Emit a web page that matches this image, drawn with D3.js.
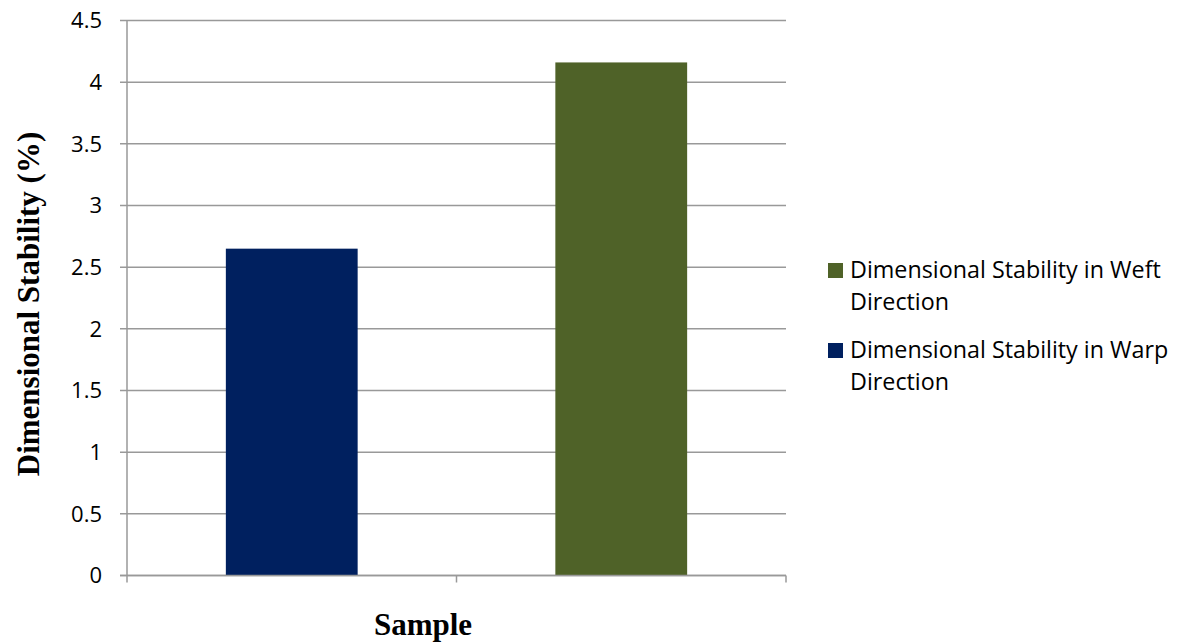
<!DOCTYPE html>
<html>
<head>
<meta charset="utf-8">
<script src="https://cdn.jsdelivr.net/npm/d3@7"></script>
<style>
  html, body { margin: 0; padding: 0; background: #fff; }
  svg { display: block; }
</style>
</head>
<body>
<svg id="chart" width="1181" height="643"></svg>
<script>
// Dimensional stability of the fabric sample in each direction (%)
const categories = ["Warp", "Weft"];
const seriesNames = [
  "Dimensional Stability in Warp Direction",
  "Dimensional Stability in Weft Direction"
];
const values = [2.65, 4.16];
const colors = ["#00205f", "#4f6228"];
const yTicks = [0, 0.5, 1, 1.5, 2, 2.5, 3, 3.5, 4, 4.5];
const yTickLabels = ["0", "0.5", "1", "1.5", "2", "2.5", "3", "3.5", "4", "4.5"];
// legend lists the weft series first, each name wrapped onto two lines
const legendOrder = [1, 0];
const legendLines = [
  ["Dimensional Stability in Warp", "Direction"],
  ["Dimensional Stability in Weft", "Direction"]
];

const svg = d3.select("#chart");
const plot = { left: 127, right: 786, top: 20.5, bottom: 575.5 };
const gridColor = "#999999";

const x = d3.scaleBand().domain(categories).range([plot.left, plot.right]).paddingInner(0).paddingOuter(0);
const y = d3.scaleLinear().domain([0, 4.5]).range([plot.bottom, plot.top]);

// horizontal gridlines with short ticks left of the axis
svg.append("g").selectAll("line").data(yTicks).join("line")
  .attr("x1", plot.left - 7).attr("x2", plot.right)
  .attr("y1", d => y(d)).attr("y2", d => y(d))
  .attr("stroke", gridColor).attr("stroke-width", 1.5);

// y tick labels
svg.append("g").selectAll("text").data(yTicks).join("text")
  .attr("x", 102).attr("y", d => y(d))
  .attr("dy", "0.36em")
  .attr("text-anchor", "end")
  .attr("font-family", "'Open Sans', 'Noto Sans', sans-serif")
  .attr("font-size", 22)
  .attr("fill", "#000")
  .text((d, i) => yTickLabels[i]);

// bars
const barW = x.bandwidth() * 0.4;
svg.append("g").selectAll("rect").data(values).join("rect")
  .attr("x", (d, i) => x(categories[i]) + (x.bandwidth() - barW) / 2)
  .attr("width", barW)
  .attr("y", d => y(d))
  .attr("height", d => y(0) - y(d))
  .attr("fill", (d, i) => colors[i]);

// y axis line
svg.append("line")
  .attr("x1", plot.left).attr("x2", plot.left)
  .attr("y1", plot.top).attr("y2", plot.bottom)
  .attr("stroke", gridColor).attr("stroke-width", 1.5);

// x axis line and category boundary ticks
svg.append("line")
  .attr("x1", plot.left - 7).attr("x2", plot.right)
  .attr("y1", plot.bottom).attr("y2", plot.bottom)
  .attr("stroke", gridColor).attr("stroke-width", 1.5);
const bounds = categories.map(c => x(c)).concat([x(categories[categories.length - 1]) + x.bandwidth()]);
svg.append("g").selectAll("line").data(bounds).join("line")
  .attr("x1", d => d).attr("x2", d => d)
  .attr("y1", plot.bottom).attr("y2", plot.bottom + 7)
  .attr("stroke", gridColor).attr("stroke-width", 1.5);

// axis titles
svg.append("text")
  .attr("x", 423).attr("y", 635)
  .attr("text-anchor", "middle")
  .attr("font-family", "'Liberation Serif', 'Times New Roman', serif")
  .attr("font-weight", "bold").attr("font-size", 31)
  .text("Sample");

svg.append("text")
  .attr("transform", "translate(39, 304) rotate(-90)")
  .attr("text-anchor", "middle")
  .attr("font-family", "'Liberation Serif', 'Times New Roman', serif")
  .attr("font-weight", "bold").attr("font-size", 31)
  .text("Dimensional Stability (%)");

// legend
const legend = svg.append("g").attr("font-family", "'Open Sans', 'Noto Sans', sans-serif")
  .attr("font-size", 23.3).attr("fill", "#000");
legendOrder.forEach((si, k) => {
  const top = 263 + k * 80;
  legend.append("rect")
    .attr("x", 828).attr("y", top).attr("width", 15).attr("height", 15)
    .attr("fill", colors[si]);
  legendLines[si].forEach((t, j) => {
    legend.append("text")
      .attr("x", 850).attr("y", top + 15 + j * 32)
      .text(t);
  });
});
</script>
</body>
</html>
